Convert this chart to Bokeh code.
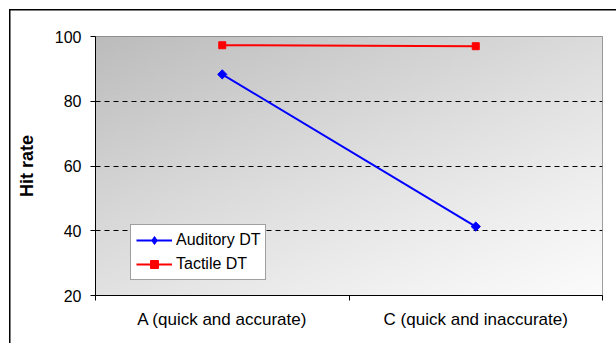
import numpy as np
from bokeh.plotting import figure
from bokeh.models import Range1d, FixedTicker, Legend
from bokeh.embed import file_html
from bokeh.resources import INLINE

categories = ["A (quick and accurate)", "C (quick and inaccurate)"]
auditory = [88.3, 41.3]
tactile = [97.3, 97.0]
y_ticks = [20, 40, 60, 80, 100]
grid_ticks = [40, 60, 80]

FONT = "Liberation Sans"
xs = [i + 0.5 for i in range(len(categories))]

p = figure(width=616, height=343, output_backend="svg", toolbar_location=None,
           x_range=Range1d(0, len(categories)), y_range=Range1d(20, 100),
           min_border_left=95, min_border_right=14, min_border_top=36, min_border_bottom=48)
p.background_fill_color = None
p.border_fill_color = None
p.outline_line_color = "#808080"
p.outline_line_width = 1
# outer chart border (top/left edges visible in the window)
p.styles = {"background-color": "white",
            "box-shadow": "inset 9px 9px 0 0 white, inset 10.5px 10.5px 0 0 black"}

# gradient background (style only)
N = 120
u = np.linspace(0, 1, N)[None, :]
v = np.linspace(0, 1, N)[:, None]  # v = 0 at bottom
t = np.clip((0.9 * u + 1.1 * (1 - v)) / 2, 0, 1)
c0, c1 = 251.0, 188.0
g = (c0 + (c1 - c0) * (1 - t) ** 1.15).astype(np.uint32)
img = ((255 << 24) | (g << 16) | (g << 8) | g).astype(np.uint32)
p.image_rgba(image=[img], x=0, y=20, dw=len(categories), dh=80, level="image")

# grid
p.xgrid.visible = False
p.ygrid.ticker = FixedTicker(ticks=grid_ticks)
p.ygrid.grid_line_color = "black"
p.ygrid.grid_line_dash = "5 4"
p.ygrid.grid_line_width = 1

# y axis
p.yaxis.ticker = FixedTicker(ticks=y_ticks)
p.yaxis.axis_label = "Hit rate"
p.yaxis.axis_label_text_font = FONT
p.yaxis.axis_label_text_font_style = "bold"
p.yaxis.axis_label_text_font_size = "18px"
p.yaxis.axis_label_text_color = "black"
p.yaxis.axis_label_standoff = 15
p.yaxis.major_label_text_font = FONT
p.yaxis.major_label_text_font_size = "16px"
p.yaxis.major_label_text_color = "black"
p.yaxis.major_label_standoff = 9
p.yaxis.major_tick_out = 5
p.yaxis.major_tick_in = 0
p.yaxis.minor_tick_line_color = None
p.yaxis.axis_line_color = "black"
p.yaxis.major_tick_line_color = "black"

# x axis
p.xaxis.ticker = FixedTicker(ticks=xs, minor_ticks=list(range(len(categories) + 1)))
p.xaxis.major_label_overrides = {x: c for x, c in zip(xs, categories)}
p.xaxis.major_tick_line_color = None
p.xaxis.major_tick_out = 5
p.xaxis.major_tick_in = 0
p.xaxis.minor_tick_out = 5
p.xaxis.minor_tick_in = 0
p.xaxis.minor_tick_line_color = "black"
p.xaxis.axis_line_color = "black"
p.xaxis.major_label_text_font = FONT
p.xaxis.major_label_text_font_size = "17px"
p.xaxis.major_label_text_color = "black"
p.xaxis.major_label_standoff = 9

# series
r1 = p.line(xs, auditory, line_color="#0000ff", line_width=2)
r1m = p.scatter(xs, auditory, marker="square", size=6.5, angle=np.pi / 4,
                fill_color="#0000ff", line_color="#0000ff")
r1leg = p.scatter([np.nan], [np.nan], marker="diamond", size=12,
                  fill_color="#0000ff", line_color="#0000ff")
r2 = p.line(xs, tactile, line_color="#ff0000", line_width=2)
r2m = p.scatter(xs, tactile, marker="square", size=7, fill_color="#ff0000", line_color="#ff0000")

legend = Legend(items=[("Auditory DT", [r1, r1leg]), ("Tactile DT", [r2, r2m])],
                location=(35, 15))
legend.label_text_font = FONT
legend.label_text_font_size = "16px"
legend.label_text_color = "black"
legend.label_standoff = 4
legend.glyph_width = 36
legend.glyph_height = 20
legend.label_height = 20
legend.spacing = 4
legend.padding = 5
legend.margin = 0
legend.border_line_color = "#404040"
legend.border_line_width = 1
legend.background_fill_color = "white"
legend.background_fill_alpha = 1
p.add_layout(legend, "center")

open("out.html", "w").write(file_html(p, INLINE))
